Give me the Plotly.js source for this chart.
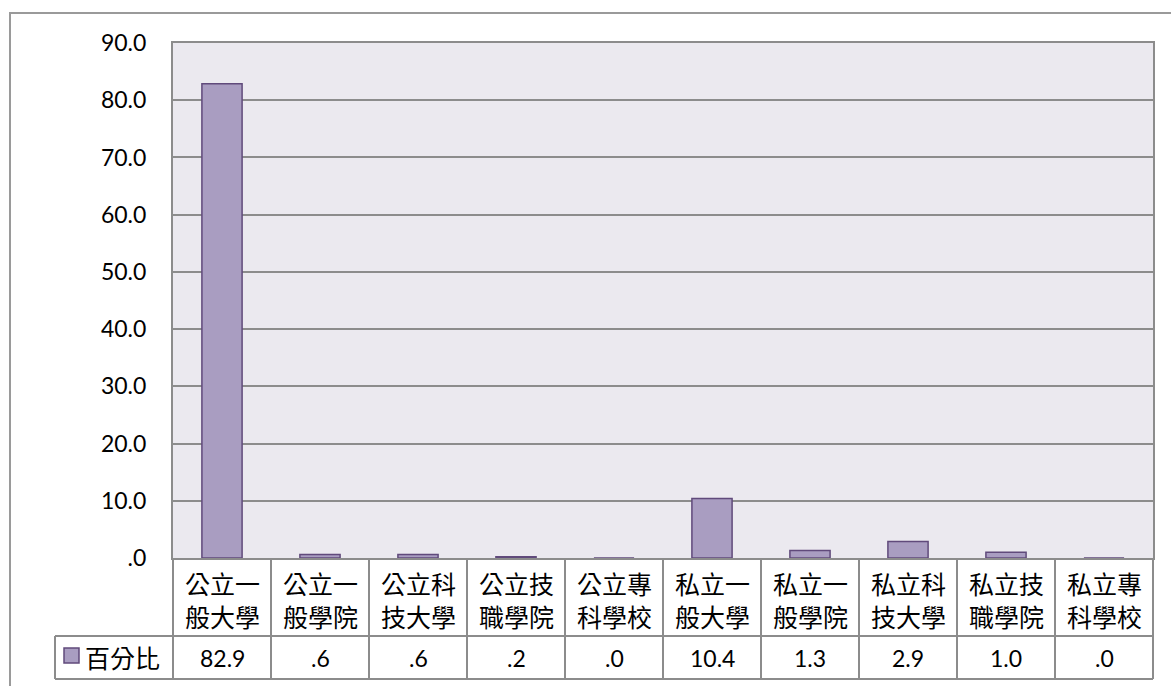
<!DOCTYPE html>
<html><head><meta charset="utf-8">
<script src="https://cdn.plot.ly/plotly-3.0.1.min.js"></script>
<style>html,body{margin:0;padding:0;background:#fff}</style>
</head><body>
<div id="chart" style="width:1171px;height:686px"></div>
<script>
const categories = ["公立一<br>般大學","公立一<br>般學院","公立科<br>技大學","公立技<br>職學院","公立專<br>科學校","私立一<br>般大學","私立一<br>般學院","私立科<br>技大學","私立技<br>職學院","私立專<br>科學校"];
const values = [82.9, 0.6, 0.6, 0.2, 0.0, 10.4, 1.3, 2.9, 1.0, 0.0];
const valueLabels = ["82.9", ".6", ".6", ".2", ".0", "10.4", "1.3", "2.9", "1.0", ".0"];
const seriesName = "百分比";
const tickVals = [0,10,20,30,40,50,60,70,80,90];
const tickText = [".0","10.0","20.0","30.0","40.0","50.0","60.0","70.0","80.0","90.0"];

const W = 1171, H = 686;
const L = 173, R = 1153, T = 43, B = 558;
const px = x => (x - L) / (R - L);
const py = y => (B - y) / (B - T);
const grey = "#8c8c8c";
const cjk = "'Noto Sans CJK TC', 'Noto Sans CJK SC', sans-serif";
const latin = "Lato, 'Open Sans', sans-serif";

const shapes = [];
const annotations = [];
// outer chart border
shapes.push({type:"rect", xref:"paper", yref:"paper", x0:px(10), x1:px(1185), y0:py(700), y1:py(13), line:{color:"#9a9a9a", width:2}, layer:"below"});
// table lines
const rowTop = 558, rowMid = 636, rowBot = 679;
const colW = (R - L) / categories.length;
shapes.push({type:"line", xref:"paper", yref:"paper", x0:px(L), x1:px(R), y0:py(rowMid), y1:py(rowMid), line:{color:grey, width:2}});
shapes.push({type:"line", xref:"paper", yref:"paper", x0:px(55), x1:px(R), y0:py(rowBot), y1:py(rowBot), line:{color:grey, width:2}});
shapes.push({type:"line", xref:"paper", yref:"paper", x0:px(55), x1:px(L), y0:py(rowMid), y1:py(rowMid), line:{color:grey, width:2}});
shapes.push({type:"line", xref:"paper", yref:"paper", x0:px(55), x1:px(55), y0:py(rowMid), y1:py(rowBot), line:{color:grey, width:2}});
for (let k = 0; k <= categories.length; k++) {
  const x = L + k * colW;
  shapes.push({type:"line", xref:"paper", yref:"paper", x0:px(x), x1:px(x), y0:py(rowTop), y1:py(rowBot), line:{color:grey, width:2}});
}
// legend key
shapes.push({type:"rect", xref:"paper", yref:"paper", x0:px(64), x1:px(79), y0:py(663), y1:py(648), fillcolor:"#a99dc1", line:{color:"#604a7b", width:1.5}});
annotations.push({xref:"paper", yref:"paper", x:px(83), y:py(657), xanchor:"left", yanchor:"middle", text:seriesName, showarrow:false, font:{family:cjk, size:25, color:"#000"}});

categories.forEach((c, i) => {
  annotations.push({xref:"x", yref:"paper", x:c, y:py(599), xanchor:"center", yanchor:"middle", text:c, showarrow:false, font:{family:cjk, size:25, color:"#000"}, align:"center"});
  annotations.push({xref:"x", yref:"paper", x:c, y:py(658), xanchor:"center", yanchor:"middle", text:valueLabels[i], showarrow:false, font:{family:latin, size:23, color:"#000"}});
});

const trace = {type:"bar", x:categories, y:values, name:seriesName,
  marker:{color:"#a99dc1", line:{color:"#604a7b", width:1.5}}, hoverinfo:"none"};

const layout = {
  width:W, height:H, showlegend:false,
  margin:{l:L, r:W-R, t:T, b:H-B, pad:0},
  paper_bgcolor:"#ffffff", plot_bgcolor:"#ebe9ef",
  bargap:0.59,
  xaxis:{showticklabels:false, showgrid:false, zeroline:false, showline:true, linecolor:grey, linewidth:2, mirror:true, ticks:""},
  yaxis:{range:[0,90], tickvals:tickVals, ticktext:tickText, showgrid:true, gridcolor:grey, gridwidth:2,
         zeroline:false, showline:true, linecolor:grey, linewidth:2, mirror:true, ticks:"", ticklen:0,
         tickfont:{family:latin, size:23, color:"#000"}, ticklabelstandoff:20},
  shapes:shapes, annotations:annotations
};
Plotly.newPlot("chart", [trace], layout, {staticPlot:true, displayModeBar:false});
</script>
</body></html>
